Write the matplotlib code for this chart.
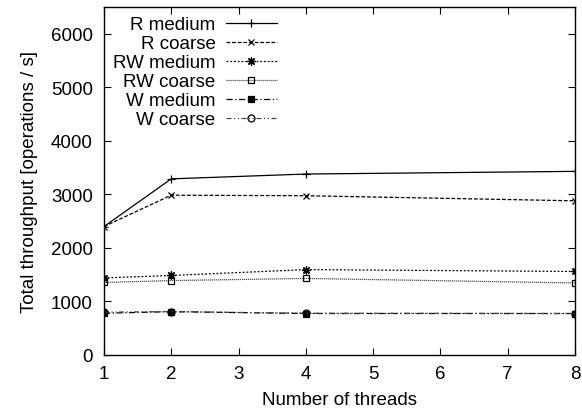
import matplotlib
matplotlib.use("Agg")
import matplotlib.pyplot as plt

plt.rcParams['font.family'] = ['Liberation Sans', 'DejaVu Sans']

threads = [1, 2, 4, 8]
r_medium = [2400, 3290, 3380, 3430]
r_coarse = [2400, 2985, 2975, 2880]
rw_medium = [1440, 1485, 1595, 1560]
rw_coarse = [1355, 1390, 1430, 1345]
w_medium = [780, 810, 775, 775]
w_coarse = [800, 810, 780, 775]

labels = ["R medium", "R coarse", "RW medium", "RW coarse", "W medium", "W coarse"]
series = [r_medium, r_coarse, rw_medium, rw_coarse, w_medium, w_coarse]
xticks = [1, 2, 3, 4, 5, 6, 7, 8]
yticks = [0, 1000, 2000, 3000, 4000, 5000, 6000]

styles = [
    dict(ls='-', marker='+', color='black', ms=6, mfc='none'),
    dict(ls=(0, (3, 1.5)), marker='x', color='black', ms=5, mfc='none'),
    dict(ls=(0, (1.5, 1.5)), marker=(8, 2, 0), color='black', ms=6, mfc='none'),
    dict(ls=(0, (1, 0.6)), marker='s', color='#555555', ms=5, mfc='none', mec='black'),
    dict(ls=(0, (5, 2, 1, 2)), marker='s', color='black', ms=5, mfc='black'),
    dict(ls=(0, (4, 2, 1, 2, 1, 2)), marker='o', color='#444444', ms=5, mfc='none', mec='black'),
]

FS = 13.5
fig = plt.figure(figsize=(5.82, 4.14), dpi=100)
ax = fig.add_axes([104/582, 1-356/414, (575-104)/582, (356-8)/414])

handles = []
for lab, ys, st in zip(labels, series, styles):
    h, = ax.plot(threads, ys, lw=0.9, label=lab, mew=0.9, **st)
    handles.append(h)

ax.set_xlim(1, 8)
ax.set_ylim(0, 6500)
ax.set_xticks(xticks)
ax.set_yticks(yticks)
ax.tick_params(direction='in', top=True, right=True, length=5, width=0.8,
               labelsize=FS)
ax.tick_params(axis='x', pad=7)
ax.tick_params(axis='y', pad=8)
for s in ax.spines.values():
    s.set_linewidth(1.0)
ax.set_xlabel("Number of threads", fontsize=FS, labelpad=7)
ax.set_ylabel("Total throughput [operations / s]", fontsize=FS, labelpad=9)

leg = ax.legend(handles=handles, loc='upper left', bbox_to_anchor=(113/582, 1-17/414),
                bbox_transform=fig.transFigure, frameon=False, markerfirst=False,
                fontsize=FS, handlelength=2.7, handletextpad=0.55, labelspacing=0.1,
                borderpad=0, borderaxespad=0)
try:
    for col in leg._legend_handle_box.get_children():
        col.align = 'right'
except Exception:
    pass

fig.savefig("out.png", dpi=100)
